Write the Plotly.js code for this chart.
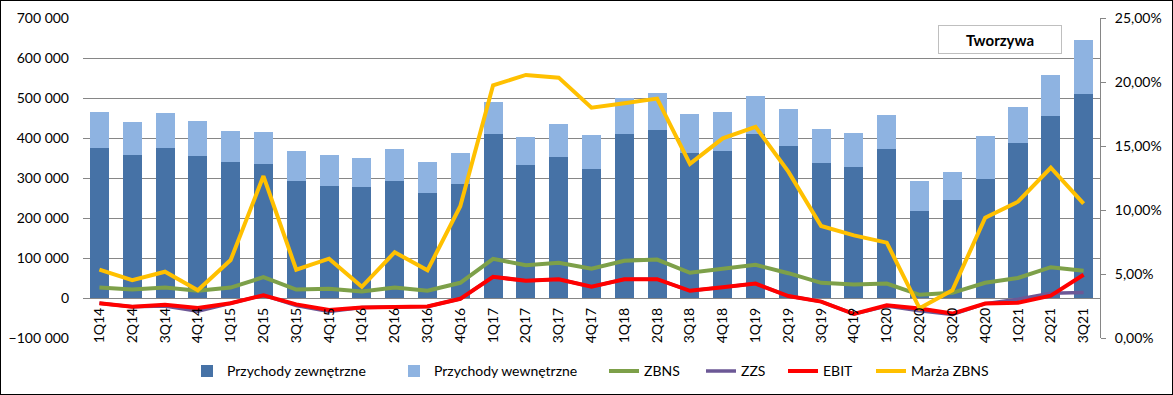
<!DOCTYPE html>
<html>
<head>
<meta charset="utf-8">
<script src="https://cdn.plot.ly/plotly-3.0.1.min.js"></script>
<style>
  html, body { margin: 0; padding: 0; background: #fff; }
  #chart { width: 1171px; height: 393px; border: 1px solid #000; }
</style>
</head>
<body>
<div id="chart"></div>
<script>
const categories = ['1Q14','2Q14','3Q14','4Q14','1Q15','2Q15','3Q15','4Q15','1Q16','2Q16','3Q16','4Q16',
  '1Q17','2Q17','3Q17','4Q17','1Q18','2Q18','3Q18','4Q18','1Q19','2Q19','3Q19','4Q19',
  '1Q20','2Q20','3Q20','4Q20','1Q21','2Q21','3Q21'];

const przychodyZewnetrzne = [375000,357500,376000,356000,340000,335000,292500,281000,277500,292500,263000,285500,
  410000,332500,352500,322500,410000,420000,362500,367500,410000,380000,337500,327500,
  372500,218000,245000,297500,387500,455000,510000];

const przychodyWewnetrzne = [90000,82500,86500,86500,77500,80000,75000,76500,72500,80000,77000,77000,
  80000,70000,82500,85000,90000,92500,97500,97500,95000,92500,85000,85000,
  85000,74500,70000,107500,90000,102500,135000];

const zbns = [26000,21000,26000,18000,26000,52000,21000,23000,16000,26000,18000,38000,
  98000,82000,88000,73000,93000,96000,63000,73000,83000,62000,38000,34000,
  36000,8000,13000,38000,50000,77000,68000];

const zzs = [-13000,-22000,-20000,-33000,-13000,7000,-19000,-34000,-24000,-23000,-21000,-2000,
  53000,43000,47000,28000,47000,47000,18000,27000,36000,5000,-9000,-40000,
  -20000,-32000,-41000,-14000,-3000,12000,14000];

const ebit = [-13000,-22000,-17000,-25000,-13000,7000,-16000,-30000,-24000,-23000,-21000,-2000,
  53000,43000,47000,28000,47000,47000,18000,27000,36000,5000,-9000,-40000,
  -18000,-26000,-39000,-14000,-12000,6000,58000];

const marzaZbns = [0.0534,0.0451,0.0518,0.0373,0.0609,0.1265,0.0534,0.0620,0.0400,0.0670,0.0529,0.1030,
  0.1974,0.2055,0.2034,0.1799,0.1834,0.1870,0.1360,0.1560,0.1650,0.1300,0.0875,0.0802,
  0.0745,0.0232,0.0372,0.0940,0.1065,0.1330,0.1050];

const FONT = 'Lato, "Open Sans", "Liberation Sans", sans-serif';

const traces = [
  { type: 'bar', name: 'Przychody zewnętrzne', x: categories, y: przychodyZewnetrzne,
    marker: { color: '#4672A6' }, legendwidth: 162 },
  { type: 'bar', name: 'Przychody wewnętrzne', x: categories, y: przychodyWewnetrzne,
    marker: { color: '#8EB3E1' }, legendwidth: 165 },
  { type: 'scatter', mode: 'lines', name: 'ZBNS', x: categories, y: zbns,
    line: { color: '#7DA049', width: 4 }, legendwidth: 52 },
  { type: 'scatter', mode: 'lines', name: 'ZZS', x: categories, y: zzs,
    line: { color: '#6C5896', width: 3.5 }, legendwidth: 37 },
  { type: 'scatter', mode: 'lines', name: 'EBIT', x: categories, y: ebit,
    line: { color: '#FF0000', width: 4 }, legendwidth: 43 },
  { type: 'scatter', mode: 'lines', name: 'Marża ZBNS', x: categories, y: marzaZbns, yaxis: 'y2',
    line: { color: '#FFC000', width: 4 } }
];

const layout = {
  width: 1171, height: 393,
  margin: { l: 82, r: 72, t: 17, b: 56, pad: 0, autoexpand: false },
  paper_bgcolor: '#ffffff', plot_bgcolor: '#ffffff',
  font: { family: FONT, size: 14, color: '#000' },
  separators: ', ',
  barmode: 'stack',
  bargap: 0.42,
  showlegend: true,
  legend: {
    orientation: 'h', x: (186 - 82) / 1017, xanchor: 'left', y: -0.104, yanchor: 'middle',
    font: { family: FONT, size: 14, color: '#000' }, traceorder: 'normal',
    bgcolor: 'rgba(0,0,0,0)', entrywidthmode: 'pixels'
  },
  xaxis: {
    type: 'category', anchor: 'free', position: 0.125,
    tickangle: -90, showgrid: false, showline: false, zeroline: false,
    ticks: '', ticklabelstandoff: 6, tickfont: { family: FONT, size: 14, color: '#000' },
    range: [-0.5, categories.length - 0.5]
  },
  yaxis: {
    range: [-100000, 700000], dtick: 100000, tick0: 0,
    tickformat: ',d', showgrid: true, gridcolor: '#868686', gridwidth: 1,
    zeroline: false, showline: false, ticks: '', ticklabelstandoff: 13,
    tickfont: { family: FONT, size: 14, color: '#000' }
  },
  yaxis2: {
    overlaying: 'y', side: 'right', range: [0, 0.25], dtick: 0.05, tick0: 0,
    tickformat: '.2%', showgrid: false, zeroline: false,
    showline: true, linecolor: '#868686', linewidth: 1,
    ticks: 'outside', ticklen: 5, tickcolor: '#868686', ticklabelstandoff: 6,
    tickfont: { family: FONT, size: 14, color: '#000' }
  },
  annotations: [{
    xref: 'paper', yref: 'paper', x: 0.9017, y: 0.933, xanchor: 'center', yanchor: 'middle',
    text: '<b>Tworzywa</b>', showarrow: false,
    font: { family: FONT, size: 15, color: '#000' },
    bordercolor: '#BFBFBF', borderwidth: 1, borderpad: 0,
    width: 122, height: 27, bgcolor: '#ffffff'
  }]
};

Plotly.newPlot('chart', traces, layout, { displayModeBar: false, staticPlot: true });
</script>
</body>
</html>
